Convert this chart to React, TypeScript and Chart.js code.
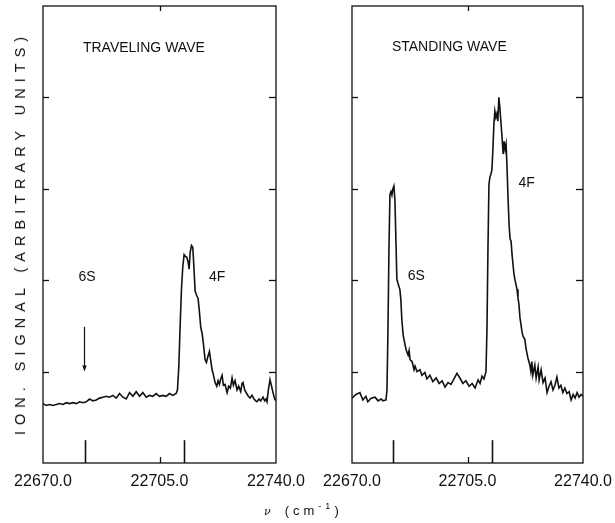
import React, { useEffect, useRef } from "react";
import { Chart, registerables } from "chart.js";

Chart.register(...registerables);

// ---------- data ----------
const xTickValues = [22670, 22705, 22740];
const yTickValues = [1, 2, 3, 4];
const midTick = 22705;
const markerNu = [22682.5, 22712.5];
const markerHeight = 0.25;

const travelingNu = [
  22670, 22671, 22672, 22673, 22674, 22675, 22676, 22677, 22678, 22679,
  22680, 22681, 22682, 22683, 22684, 22685, 22686, 22687, 22688, 22689,
  22690, 22691, 22692, 22693, 22694, 22695, 22696, 22697, 22698, 22699,
  22700, 22701, 22702, 22703, 22704, 22705, 22706, 22707, 22708, 22709,
  22710.0, 22710.4, 22710.8, 22711.2, 22711.6, 22712.0, 22712.4, 22712.8, 22713.2, 22713.6,
  22713.9, 22714.2, 22714.6, 22715.0, 22715.4, 22715.7, 22716.2, 22716.6, 22717.0, 22717.4,
  22717.8, 22718.2, 22718.7, 22719.1, 22719.5, 22720.0, 22720.4, 22720.8, 22721.1, 22721.7,
  22722.2, 22722.6, 22723.0, 22723.4, 22723.8, 22724.2, 22724.7, 22725.3, 22725.8, 22726.3,
  22726.8, 22727.2, 22727.7, 22728.3, 22728.8, 22729.4, 22729.8, 22730.1, 22730.6, 22731.2,
  22731.7, 22732.2, 22732.8, 22733.4, 22733.9, 22734.3, 22734.9, 22735.4, 22736.1, 22736.6,
  22737.0, 22737.3, 22737.7, 22738.2, 22738.6, 22739.1, 22739.6, 22740.0,
];
const travelingSignal = [
  0.65, 0.63, 0.64, 0.63, 0.64, 0.65, 0.64, 0.66, 0.65, 0.66,
  0.65, 0.67, 0.66, 0.67, 0.70, 0.68, 0.69, 0.71, 0.72, 0.73,
  0.72, 0.74, 0.71, 0.76, 0.72, 0.70, 0.77, 0.73, 0.78, 0.73,
  0.77, 0.72, 0.74, 0.73, 0.76, 0.73, 0.74, 0.73, 0.76, 0.74,
  0.76, 0.80, 1.05, 1.50, 1.90, 2.15, 2.28, 2.26, 2.25, 2.20,
  2.12, 2.30, 2.38, 2.36, 2.10, 1.88, 1.83, 1.80, 1.65, 1.48,
  1.42, 1.30, 1.13, 1.10, 1.16, 1.22, 1.12, 1.02, 0.98, 0.88,
  0.84, 0.90, 0.86, 0.92, 0.96, 0.85, 0.86, 0.77, 0.84, 0.82,
  0.93, 0.85, 0.90, 0.80, 0.84, 0.78, 0.87, 0.88, 0.80, 0.76,
  0.73, 0.71, 0.74, 0.70, 0.68, 0.67, 0.70, 0.68, 0.72, 0.68,
  0.70, 0.67, 0.80, 0.91, 0.85, 0.77, 0.70, 0.68,
];

const standingNu = [
  22670.0, 22671.2, 22672.4, 22673.3, 22674.2, 22674.8, 22675.8, 22677.0, 22677.9, 22678.8,
  22679.4, 22680.3, 22680.6, 22680.9, 22681.2, 22681.5, 22681.8, 22682.1, 22682.4, 22682.7,
  22683.0, 22683.3, 22683.6, 22683.9, 22684.5, 22684.8, 22685.1, 22685.5, 22686.1, 22686.4,
  22687.0, 22687.3, 22687.6, 22688.2, 22688.8, 22689.1, 22689.7, 22690.6, 22691.2, 22692.1,
  22692.7, 22693.6, 22694.5, 22695.5, 22696.4, 22697.3, 22698.2, 22699.1, 22700.0, 22700.9,
  22701.8, 22702.7, 22703.6, 22704.5, 22705.5, 22706.4, 22707.3, 22708.2, 22708.8, 22709.4,
  22710.0, 22710.6, 22710.9, 22711.2, 22711.5, 22711.8, 22712.1, 22712.4, 22712.7, 22713.0,
  22713.3, 22713.6, 22713.9, 22714.2, 22714.5, 22714.8, 22715.1, 22715.4, 22715.8, 22716.1,
  22716.4, 22716.7, 22717.0, 22717.3, 22717.6, 22717.9, 22718.2, 22718.5, 22719.1, 22719.4,
  22720.0, 22720.3, 22720.6, 22720.9, 22721.5, 22721.8, 22722.4, 22722.7, 22723.3, 22723.9,
  22724.2, 22724.5, 22724.8, 22725.4, 22725.8, 22726.4, 22726.7, 22727.3, 22727.9, 22728.5,
  22729.1, 22729.7, 22730.3, 22730.9, 22731.5, 22732.1, 22732.7, 22733.3, 22733.9, 22734.5,
  22735.1, 22735.8, 22736.4, 22737.0, 22737.6, 22738.2, 22738.8, 22739.4, 22740.0,
];
const standingSignal = [
  0.71, 0.75, 0.77, 0.69, 0.73, 0.67, 0.71, 0.72, 0.68, 0.70,
  0.68, 0.69, 0.80, 1.46, 2.34, 2.94, 2.97, 2.93, 3.00, 3.03,
  2.88, 2.45, 2.01, 1.97, 1.90, 1.79, 1.57, 1.40, 1.29, 1.24,
  1.18, 1.23, 1.13, 1.11, 1.02, 1.06, 1.00, 1.02, 0.96, 0.99,
  0.92, 0.96, 0.89, 0.93, 0.87, 0.90, 0.83, 0.88, 0.86, 0.92,
  0.98, 0.93, 0.87, 0.90, 0.84, 0.87, 0.82, 0.91, 0.87, 0.95,
  0.92, 1.00, 1.46, 2.34, 3.05, 3.13, 3.16, 3.21, 3.43, 3.71,
  3.85, 3.78, 3.82, 3.74, 4.00, 3.89, 3.74, 3.60, 3.38, 3.52,
  3.43, 3.49, 3.21, 2.88, 2.61, 2.45, 2.43, 2.28, 2.06, 2.00,
  1.90, 1.81, 1.73, 1.59, 1.44, 1.39, 1.35, 1.26, 1.15, 1.07,
  1.00, 1.11, 0.96, 1.07, 0.93, 1.05, 0.91, 1.02, 0.88, 0.93,
  0.77, 0.84, 0.89, 0.80, 0.85, 0.94, 0.82, 0.85, 0.77, 0.82,
  0.76, 0.78, 0.69, 0.75, 0.71, 0.77, 0.72, 0.75, 0.73,
];

const travelingLabels = [
  { text: "TRAVELING WAVE", nu: 22682.0, v: 4.54, align: "left" },
  { text: "6S", nu: 22683.2, v: 2.03, align: "center" },
  { text: "4F", nu: 22722.3, v: 2.03, align: "center" },
];
const travelingArrows = [{ nu: 22682.3, from: 1.49, to: 1.0 }];

const standingLabels = [
  { text: "STANDING WAVE", nu: 22682.1, v: 4.55, align: "left" },
  { text: "6S", nu: 22689.5, v: 2.04, align: "center" },
  { text: "4F", nu: 22722.9, v: 3.06, align: "center" },
];
const standingArrows: { nu: number; from: number; to: number }[] = [];

// ---------- drawing ----------
const INK = "#111";
const FONT = "'Liberation Sans', Arial, Helvetica, sans-serif";

const decorPlugin = {
  id: "decor",
  afterDraw(chart: any, _args: any, opts: any) {
    const { ctx, chartArea: a, scales } = chart;
    const xs = scales.x;
    const ys = scales.y;
    const line = (x1: number, y1: number, x2: number, y2: number) => {
      ctx.beginPath();
      ctx.moveTo(x1, y1);
      ctx.lineTo(x2, y2);
      ctx.stroke();
    };
    ctx.save();
    ctx.strokeStyle = INK;
    ctx.fillStyle = INK;
    ctx.lineWidth = 1.3;
    ctx.strokeRect(a.left, a.top, a.right - a.left, a.bottom - a.top);
    for (const v of yTickValues) {
      const y = Math.round(ys.getPixelForValue(v)) + 0.5;
      line(a.left, y, a.left + 6, y);
      line(a.right - 7, y, a.right, y);
    }
    const xm = Math.round(xs.getPixelForValue(midTick)) + 0.5;
    line(xm, a.top, xm, a.top + 5);
    line(xm, a.bottom - 6, xm, a.bottom);
    ctx.lineWidth = 1.6;
    for (const n of markerNu) {
      const x = Math.round(xs.getPixelForValue(n)) + 0.5;
      line(x, ys.getPixelForValue(0), x, ys.getPixelForValue(markerHeight));
    }
    ctx.font = `14px ${FONT}`;
    ctx.textBaseline = "middle";
    for (const l of opts.labels || []) {
      ctx.textAlign = l.align;
      ctx.fillText(l.text, xs.getPixelForValue(l.nu), ys.getPixelForValue(l.v));
    }
    ctx.lineWidth = 1.2;
    for (const ar of opts.arrows || []) {
      const x = Math.round(xs.getPixelForValue(ar.nu)) + 0.5;
      const y1 = ys.getPixelForValue(ar.from);
      const y2 = ys.getPixelForValue(ar.to);
      line(x, y1, x, y2 - 5);
      ctx.beginPath();
      ctx.moveTo(x, y2);
      ctx.lineTo(x - 2.2, y2 - 6);
      ctx.lineTo(x + 2.2, y2 - 6);
      ctx.closePath();
      ctx.fill();
    }
    ctx.restore();
  },
};

function Panel(props: {
  nu: number[];
  signal: number[];
  labels: any[];
  arrows: any[];
  left: number;
  width: number;
  pad: { left: number; right: number; top: number };
}) {
  const ref = useRef<HTMLCanvasElement | null>(null);
  useEffect(() => {
    if (!ref.current) return;
    const n = Math.min(props.nu.length, props.signal.length);
    const pts = [];
    for (let i = 0; i < n; i++) pts.push({ x: props.nu[i], y: props.signal[i] });
    const chart = new Chart(ref.current, {
      type: "line",
      data: {
        datasets: [
          {
            data: pts,
            borderColor: INK,
            borderWidth: 1.6,
            pointRadius: 0,
            tension: 0,
            fill: false,
          },
        ],
      },
      options: {
        animation: false,
        responsive: false,
        devicePixelRatio: 1,
        events: [],
        layout: { padding: { left: props.pad.left, right: props.pad.right, top: props.pad.top, bottom: 0 } },
        plugins: {
          legend: { display: false },
          tooltip: { enabled: false },
          title: { display: false },
          decor: { labels: props.labels, arrows: props.arrows },
        } as any,
        scales: {
          x: {
            type: "linear",
            min: xTickValues[0],
            max: xTickValues[xTickValues.length - 1],
            afterBuildTicks: (s: any) => {
              s.ticks = xTickValues.map((v) => ({ value: v }));
            },
            afterFit: (s: any) => {
              s.height = 60;
              s.paddingLeft = 0;
              s.paddingRight = 0;
            },
            grid: { display: false, drawTicks: false },
            border: { display: false },
            ticks: {
              color: INK,
              padding: 9,
              maxRotation: 0,
              autoSkip: false,
              font: { family: FONT, size: 16 },
              callback: (v: any) => Number(v).toFixed(1),
            },
          },
          y: {
            type: "linear",
            display: false,
            min: 0,
            max: 5,
          },
        },
      },
      plugins: [decorPlugin],
    });
    return () => chart.destroy();
  }, []);
  return (
    <canvas
      ref={ref}
      width={props.width}
      height={523}
      style={{ position: "absolute", left: props.left, top: 0, width: props.width, height: 523 }}
    />
  );
}

export default function App() {
  return (
    <div style={{ position: "absolute", left: 0, top: 0, width: 615, height: 523, background: "#fff", overflow: "hidden" }}>
      <Panel
        nu={travelingNu}
        signal={travelingSignal}
        labels={travelingLabels}
        arrows={travelingArrows}
        left={0}
        width={310}
        pad={{ left: 43, right: 34, top: 6 }}
      />
      <Panel
        nu={standingNu}
        signal={standingSignal}
        labels={standingLabels}
        arrows={standingArrows}
        left={310}
        width={305}
        pad={{ left: 42, right: 32, top: 6 }}
      />
      <div
        style={{
          position: "absolute",
          left: 20,
          top: 233,
          transform: "translate(-50%, -50%) rotate(-90deg)",
          whiteSpace: "nowrap",
          fontFamily: FONT,
          fontSize: 14.5,
          letterSpacing: "6px",
          color: INK,
        }}
      >
        ION. SIGNAL (ARBITRARY UNITS)
      </div>
      <div
        style={{
          position: "absolute",
          left: 264,
          top: 502,
          whiteSpace: "nowrap",
          fontFamily: FONT,
          fontSize: 13,
          letterSpacing: "4px",
          color: INK,
          lineHeight: "18px",
        }}
      >
        <span style={{ fontFamily: "'DejaVu Serif', serif", fontStyle: "italic", fontSize: 11, marginRight: 10 }}>ν</span>
        (cm<sup style={{ fontSize: 9, verticalAlign: "6px", lineHeight: 0 }}>-1</sup>)
      </div>
    </div>
  );
}
